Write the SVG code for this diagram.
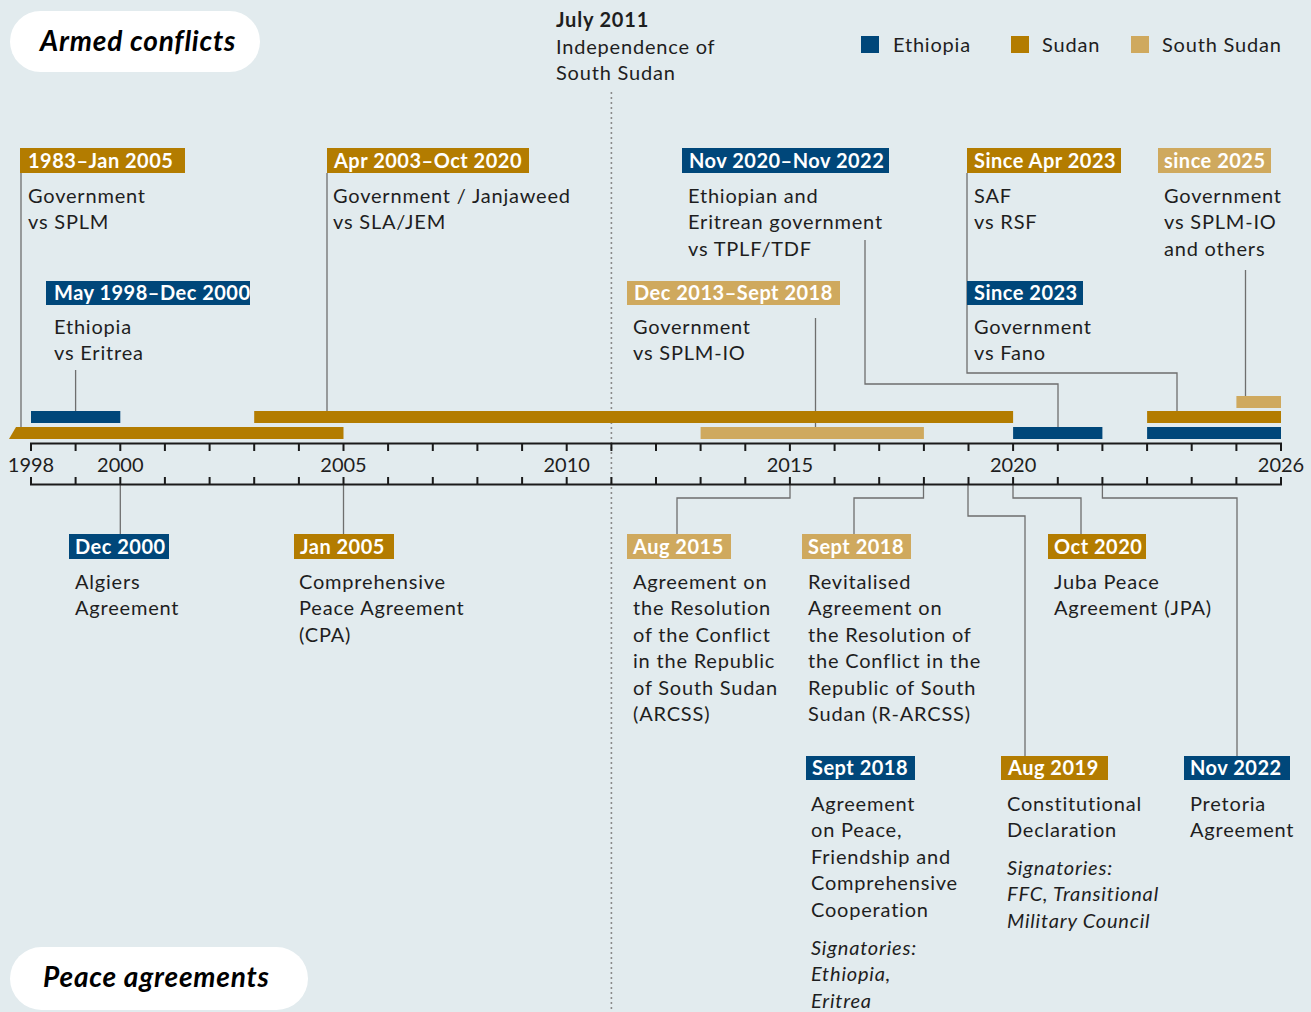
<svg xmlns="http://www.w3.org/2000/svg" width="1311" height="1012" viewBox="0 0 1311 1012">
<style>
text{font-family:Lato,"Noto Sans","Liberation Sans",sans-serif;fill:#1e1e1e;letter-spacing:0.8px}
.b{font-size:20px}
.h{font-size:20px;font-weight:bold;fill:#fff;letter-spacing:0.5px}
.it{font-style:italic}
.title{font-size:28px;font-weight:bold;font-style:italic;fill:#000;letter-spacing:0.8px}
.yr{font-size:20px;text-anchor:middle;letter-spacing:0}
.eth{fill:#00477a}
.sud{fill:#b37c00}
.ss{fill:#cfa95e}
.conn{stroke:#6e6e6e;stroke-width:1.3;fill:none}
.axis{stroke:#1a1a1a;stroke-width:2;fill:none}
</style>
<rect width="1311" height="1012" fill="#e2ebee"/>

<g id="dotted-2011">
<line x1="611.4" y1="92" x2="611.4" y2="1012" stroke="#8a8a8a" stroke-width="1.6" stroke-dasharray="2,3"/>
</g>

<g id="title-armed">
<rect x="10" y="11" width="250" height="61" rx="30.5" fill="#fff"/>
<text class="title" x="40" y="51">Armed conflicts</text>
</g>
<g id="title-peace">
<rect x="10" y="947" width="298" height="63" rx="31.5" fill="#fff"/>
<text class="title" x="43" y="987">Peace agreements</text>
</g>

<g id="july2011">
<text class="b" x="556" y="27" font-weight="bold">July 2011</text>
<text class="b" x="556" y="54">Independence of</text>
<text class="b" x="556" y="80">South Sudan</text>
</g>

<g id="legend">
<rect class="eth" x="861" y="36" width="18" height="17"/>
<text class="b" x="893" y="52">Ethiopia</text>
<rect class="sud" x="1011" y="36" width="18" height="17"/>
<text class="b" x="1042" y="52">Sudan</text>
<rect class="ss" x="1131" y="36" width="18" height="17"/>
<text class="b" x="1162" y="52">South Sudan</text>
</g>

<g id="connectors">
<path class="conn" d="M21 173 V427"/>
<path class="conn" d="M75.6 370 V411"/>
<path class="conn" d="M327 173 V411"/>
<path class="conn" d="M865 240 V384 H1058 V427"/>
<path class="conn" d="M967 173 V373 H1177 V411"/>
<path class="conn" d="M1245.5 270 V396"/>
<path class="conn" d="M815.5 318 V433"/>
<path class="conn" d="M120.3 485 V534"/>
<path class="conn" d="M343.5 485 V534"/>
<path class="conn" d="M790 485 V498 H677 V534"/>
<path class="conn" d="M923.5 485 V498 H854 V534"/>
<path class="conn" d="M968 485 V516 H1025 V756"/>
<path class="conn" d="M1013 485 V498 H1081 V534"/>
<path class="conn" d="M1102.4 485 V498 H1237 V756"/>
</g>

<g id="bars">
<path class="sud" d="M16 427 H343.5 V439 H9 Z"/>
<rect class="eth" x="31" y="411" width="89.3" height="12"/>
<rect class="sud" x="254.2" y="411" width="758.9" height="12"/>
<rect class="ss" x="700.6" y="427" width="223.3" height="12"/>
<rect class="eth" x="1013.1" y="427" width="89.3" height="12"/>
<rect class="sud" x="1147.1" y="411" width="133.9" height="12"/>
<rect class="eth" x="1147.1" y="427" width="133.9" height="12"/>
<rect class="ss" x="1236.4" y="396" width="44.6" height="12"/>
</g>

<g id="axis">
<path class="axis" d="M30 443.5 H1282 M30 484.5 H1282"/>
<path class="axis" d="M31 443 V451 M75.6 443 V451 M120.3 443 V451 M164.9 443 V451 M209.6 443 V451 M254.2 443 V451 M298.9 443 V451 M343.5 443 V451 M388.1 443 V451 M432.8 443 V451 M477.4 443 V451 M522.1 443 V451 M566.7 443 V451 M611.4 443 V451 M656 443 V451 M700.6 443 V451 M745.3 443 V451 M789.9 443 V451 M834.6 443 V451 M879.2 443 V451 M923.9 443 V451 M968.5 443 V451 M1013.1 443 V451 M1057.8 443 V451 M1102.4 443 V451 M1147.1 443 V451 M1191.7 443 V451 M1236.4 443 V451 M1281 443 V451"/>
<path class="axis" d="M31 477 V485 M75.6 477 V485 M120.3 477 V485 M164.9 477 V485 M209.6 477 V485 M254.2 477 V485 M298.9 477 V485 M343.5 477 V485 M388.1 477 V485 M432.8 477 V485 M477.4 477 V485 M522.1 477 V485 M566.7 477 V485 M611.4 477 V485 M656 477 V485 M700.6 477 V485 M745.3 477 V485 M789.9 477 V485 M834.6 477 V485 M879.2 477 V485 M923.9 477 V485 M968.5 477 V485 M1013.1 477 V485 M1057.8 477 V485 M1102.4 477 V485 M1147.1 477 V485 M1191.7 477 V485 M1236.4 477 V485 M1281 477 V485"/>
<text class="yr" x="31" y="472">1998</text>
<text class="yr" x="120.3" y="472">2000</text>
<text class="yr" x="343.5" y="472">2005</text>
<text class="yr" x="566.7" y="472">2010</text>
<text class="yr" x="789.9" y="472">2015</text>
<text class="yr" x="1013.1" y="472">2020</text>
<text class="yr" x="1281" y="472">2026</text>
</g>

<g id="c-1983">
<rect class="sud" x="20" y="148" width="165" height="25"/>
<text class="h" x="28" y="168">1983–Jan 2005</text>
<text class="b" x="28" y="203">Government</text>
<text class="b" x="28" y="229">vs SPLM</text>
</g>
<g id="c-2003">
<rect class="sud" x="327" y="148" width="202" height="25"/>
<text class="h" x="334" y="168">Apr 2003–Oct 2020</text>
<text class="b" x="333" y="203">Government / Janjaweed</text>
<text class="b" x="333" y="229">vs SLA/JEM</text>
</g>
<g id="c-2020">
<rect class="eth" x="682" y="148" width="207" height="25"/>
<text class="h" x="689" y="168">Nov 2020–Nov 2022</text>
<text class="b" x="688" y="203">Ethiopian and</text>
<text class="b" x="688" y="229">Eritrean government</text>
<text class="b" x="688" y="256">vs TPLF/TDF</text>
</g>
<g id="c-apr2023">
<rect class="sud" x="967" y="148" width="154" height="25"/>
<text class="h" x="974" y="168">Since Apr 2023</text>
<text class="b" x="974" y="203">SAF</text>
<text class="b" x="974" y="229">vs RSF</text>
</g>
<g id="c-2025">
<rect class="ss" x="1158" y="148" width="113" height="25"/>
<text class="h" x="1164" y="168">since 2025</text>
<text class="b" x="1164" y="203">Government</text>
<text class="b" x="1164" y="229">vs SPLM-IO</text>
<text class="b" x="1164" y="256">and others</text>
</g>
<g id="c-1998">
<rect class="eth" x="46" y="281" width="204" height="24"/>
<text class="h" x="54" y="300">May 1998–Dec 2000</text>
<text class="b" x="54" y="334">Ethiopia</text>
<text class="b" x="54" y="360">vs Eritrea</text>
</g>
<g id="c-2013">
<rect class="ss" x="627" y="281" width="213" height="24"/>
<text class="h" x="634" y="300">Dec 2013–Sept 2018</text>
<text class="b" x="633" y="334">Government</text>
<text class="b" x="633" y="360">vs SPLM-IO</text>
</g>
<g id="c-2023">
<rect class="eth" x="967" y="281" width="116" height="24"/>
<text class="h" x="974" y="300">Since 2023</text>
<text class="b" x="974" y="334">Government</text>
<text class="b" x="974" y="360">vs Fano</text>
</g>

<g id="p-2000">
<rect class="eth" x="69" y="534" width="100" height="25"/>
<text class="h" x="75" y="554">Dec 2000</text>
<text class="b" x="75" y="589">Algiers</text>
<text class="b" x="75" y="615">Agreement</text>
</g>
<g id="p-2005">
<rect class="sud" x="294" y="534" width="100" height="25"/>
<text class="h" x="300" y="554">Jan 2005</text>
<text class="b" x="299" y="589">Comprehensive</text>
<text class="b" x="299" y="615">Peace Agreement</text>
<text class="b" x="299" y="642">(CPA)</text>
</g>
<g id="p-2015">
<rect class="ss" x="627" y="534" width="104" height="25"/>
<text class="h" x="633" y="554">Aug 2015</text>
<text class="b" x="633" y="589">Agreement on</text>
<text class="b" x="633" y="615">the Resolution</text>
<text class="b" x="633" y="642">of the Conflict</text>
<text class="b" x="633" y="668">in the Republic</text>
<text class="b" x="633" y="695">of South Sudan</text>
<text class="b" x="633" y="721">(ARCSS)</text>
</g>
<g id="p-2018ss">
<rect class="ss" x="802" y="534" width="109" height="25"/>
<text class="h" x="808" y="554">Sept 2018</text>
<text class="b" x="808" y="589">Revitalised</text>
<text class="b" x="808" y="615">Agreement on</text>
<text class="b" x="808" y="642">the Resolution of</text>
<text class="b" x="808" y="668">the Conflict in the</text>
<text class="b" x="808" y="695">Republic of South</text>
<text class="b" x="808" y="721">Sudan (R-ARCSS)</text>
</g>
<g id="p-2020">
<rect class="sud" x="1048" y="534" width="98" height="25"/>
<text class="h" x="1054" y="554">Oct 2020</text>
<text class="b" x="1054" y="589">Juba Peace</text>
<text class="b" x="1054" y="615">Agreement (JPA)</text>
</g>
<g id="p-2018eth">
<rect class="eth" x="806" y="756" width="109" height="24"/>
<text class="h" x="812" y="775">Sept 2018</text>
<text class="b" x="811" y="811">Agreement</text>
<text class="b" x="811" y="837">on Peace,</text>
<text class="b" x="811" y="864">Friendship and</text>
<text class="b" x="811" y="890">Comprehensive</text>
<text class="b" x="811" y="917">Cooperation</text>
<text class="b it" x="811" y="955">Signatories:</text>
<text class="b it" x="811" y="981">Ethiopia,</text>
<text class="b it" x="811" y="1008">Eritrea</text>
</g>
<g id="p-2019">
<rect class="sud" x="1001" y="756" width="107" height="24"/>
<text class="h" x="1008" y="775">Aug 2019</text>
<text class="b" x="1007" y="811">Constitutional</text>
<text class="b" x="1007" y="837">Declaration</text>
<text class="b it" x="1007" y="875">Signatories:</text>
<text class="b it" x="1007" y="901">FFC, Transitional</text>
<text class="b it" x="1007" y="928">Military Council</text>
</g>
<g id="p-2022">
<rect class="eth" x="1184" y="756" width="106" height="24"/>
<text class="h" x="1190" y="775">Nov 2022</text>
<text class="b" x="1190" y="811">Pretoria</text>
<text class="b" x="1190" y="837">Agreement</text>
</g>
</svg>
